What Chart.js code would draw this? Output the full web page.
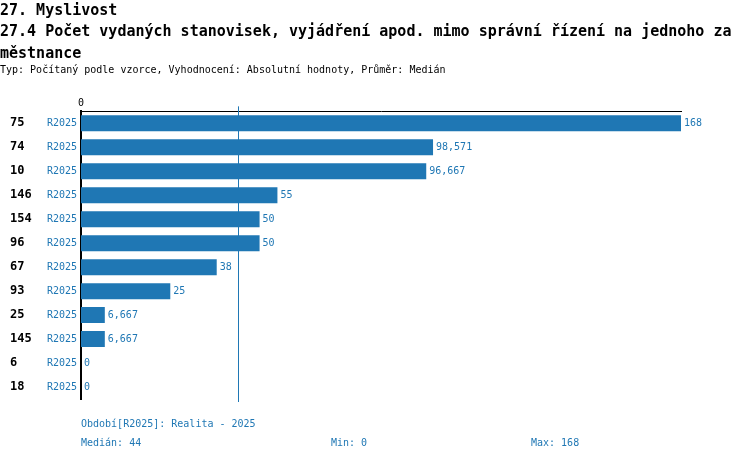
<!DOCTYPE html>
<html>
<head>
<meta charset="utf-8">
<script src="https://cdn.jsdelivr.net/npm/chart.js@4/dist/chart.umd.min.js"></script>
<style>
  body { margin: 0; background: #fff; }
  #wrap { position: relative; width: 750px; height: 462px; }
  #chart { position: absolute; left: 0; top: 0; }
  .foot { position: absolute; font: 10px "DejaVu Sans Mono", monospace; color: #1f77b4; line-height: 12px; white-space: pre; }
</style>
</head>
<body>
<div id="wrap">
  <canvas id="chart" width="750" height="462"></canvas>
  <div class="foot" id="period" style="left:81px; top:418px;"></div>
  <div class="foot" id="median" style="left:81px; top:437px;"></div>
  <div class="foot" id="min" style="left:331px; top:437px;"></div>
  <div class="foot" id="max" style="left:531px; top:437px;"></div>
</div>
<script>
// chart data
const titleLines = [
    '27. Myslivost',
    '27.4 Počet vydaných stanovisek, vyjádření apod. mimo správní řízení na jednoho za',
    'městnance'
];
const subtitleText = 'Typ: Počítaný podle vzorce, Vyhodnocení: Absolutní hodnoty, Průměr: Medián';
const codes = ['75', '74', '10', '146', '154', '96', '67', '93', '25', '145', '6', '18'];
const periods = ['R2025', 'R2025', 'R2025', 'R2025', 'R2025', 'R2025', 'R2025', 'R2025', 'R2025', 'R2025', 'R2025', 'R2025'];
const values = [168, 98.571, 96.667, 55, 50, 50, 38, 25, 6.667, 6.667, 0, 0];
const xTickValues = [0];
const medianValue = 44;
const minValue = 0;
const maxValue = 168;
const periodNote = 'Období[R2025]: Realita - 2025';

const mono = '"DejaVu Sans Mono", monospace';
const blue = '#1f77b4';

function fmt(v) {
    return String(v).replace('.', ',');
}

document.getElementById('period').textContent = periodNote;
document.getElementById('median').textContent = 'Medián: ' + fmt(medianValue);
document.getElementById('min').textContent = 'Min: ' + fmt(minValue);
document.getElementById('max').textContent = 'Max: ' + fmt(maxValue);

// median line behind the bars, value labels after them
const extras = {
    id: 'extras',
    beforeDatasetsDraw(chart) {
        const {ctx, chartArea} = chart;
        const x = Math.round(chart.scales.x.getPixelForValue(medianValue)) + 0.5;
        ctx.save();
        ctx.strokeStyle = blue;
        ctx.lineWidth = 1;
        ctx.beginPath();
        ctx.moveTo(x, chartArea.top - 5);
        ctx.lineTo(x, chartArea.bottom + 3);
        ctx.stroke();
        ctx.restore();
    },
    afterDatasetsDraw(chart) {
        const {ctx} = chart;
        const meta = chart.getDatasetMeta(0);
        ctx.save();
        ctx.font = '10px ' + mono;
        ctx.fillStyle = blue;
        ctx.textAlign = 'left';
        ctx.textBaseline = 'middle';
        meta.data.forEach(function(bar, i) {
            ctx.fillText(fmt(values[i]), bar.x + 3, bar.y);
        });
        ctx.restore();
    }
};

new Chart(document.getElementById('chart'), {
    type: 'bar',
    data: {
        labels: codes,
        datasets: [{
            data: values,
            backgroundColor: blue,
            borderWidth: 0,
            categoryPercentage: 1,
            barPercentage: 0.667
        }]
    },
    options: {
        indexAxis: 'y',
        responsive: false,
        animation: false,
        layout: { padding: { left: 0, right: 0, top: 0, bottom: 63 } },
        plugins: {
            legend: { display: false },
            tooltip: { enabled: false },
            title: {
                display: true,
                text: titleLines,
                align: 'start',
                color: '#000',
                font: { family: mono, size: 15, weight: 'bold', lineHeight: 1.43 },
                padding: { top: 0, bottom: 0 }
            },
            subtitle: {
                display: true,
                text: subtitleText,
                align: 'start',
                color: '#000',
                font: { family: mono, size: 10, lineHeight: 1.2 },
                padding: { top: 0, bottom: 19 }
            }
        },
        scales: {
            x: {
                position: 'top',
                min: 0,
                max: maxValue,
                grid: { display: false, drawTicks: false },
                border: { display: true, color: '#000', width: 1 },
                afterBuildTicks: function(scale) {
                    scale.ticks = xTickValues.map(v => ({ value: v }));
                },
                afterFit: function(scale) { scale.height = 16; },
                ticks: { color: '#000', padding: 2, font: { family: mono, size: 10 } }
            },
            y: {
                position: 'left',
                weight: 1,
                grid: { display: false, drawTicks: false },
                border: { display: true, color: '#000', width: 2 },
                afterFit: function(scale) { scale.width = 81; },
                ticks: {
                    color: blue,
                    padding: 4,
                    font: { family: mono, size: 10 },
                    callback: function(value, index) { return periods[index]; }
                }
            },
            codes: {
                type: 'category',
                position: 'left',
                weight: 2,
                labels: codes,
                grid: { display: false, drawTicks: false },
                border: { display: false },
                afterFit: function(scale) { scale.width = 0; },
                ticks: {
                    mirror: true,
                    padding: 10,
                    color: '#000',
                    font: { family: mono, size: 12, weight: 'bold' }
                }
            },
            // empty axis on the right that keeps room for the value labels
            spacer: {
                type: 'category',
                position: 'right',
                labels: codes,
                grid: { display: false, drawTicks: false },
                border: { display: false },
                ticks: { display: false },
                afterFit: function(scale) { scale.width = 69; }
            }
        }
    },
    plugins: [extras]
});
</script>
</body>
</html>
